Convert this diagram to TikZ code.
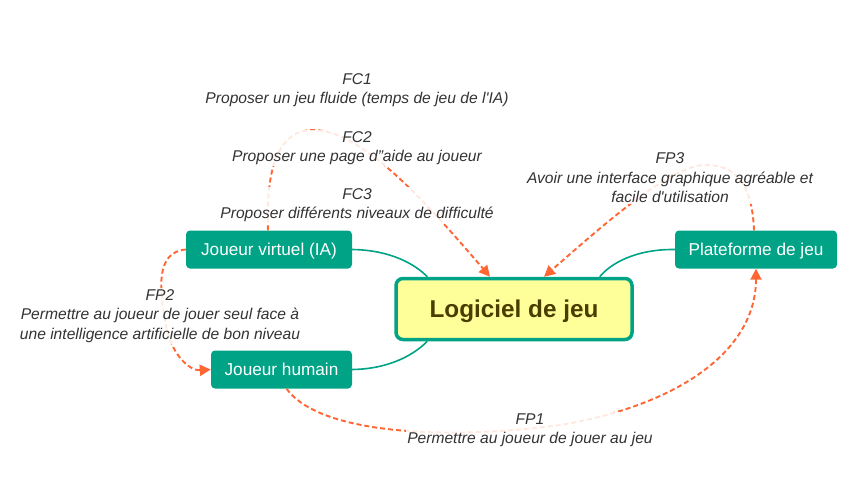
\documentclass[tikz,border=0pt]{standalone}
\usepackage{fontspec}
\setmainfont{Liberation Sans}
\usetikzlibrary{arrows.meta}
\definecolor{teal1}{HTML}{00A386}
\definecolor{orng}{HTML}{FF6633}
\definecolor{yel}{HTML}{FFFF99}
\definecolor{olive}{HTML}{4A3D00}
\definecolor{lbl}{HTML}{333333}
\begin{document}
\begin{tikzpicture}[x=1pt,y=-1pt,
  actor/.style={draw=none,fill=teal1,rounded corners=4pt,text=white,font=\fontsize{17.2}{20}\selectfont,minimum height=38pt,inner xsep=4pt,text depth=0pt,text height=12.5pt},
  mainbox/.style={draw=teal1,line width=3.5pt,fill=yel,rounded corners=7pt,text=olive,font=\fontsize{24.3}{28}\selectfont\bfseries,minimum width=236pt,minimum height=61pt,text depth=0pt,text height=17.5pt},
  lab/.style={fill=white,fill opacity=0.85,text opacity=1,text=lbl,align=center,font=\fontsize{15.6}{19.5}\selectfont\itshape,inner sep=1pt},
  link/.style={draw=teal1,line width=1.6pt},
  fn/.style={draw=orng,line width=1.9pt,dash pattern=on 5pt off 3pt,-{Triangle[length=11pt,width=11pt]}}
]
\useasboundingbox (0,0) rectangle (854,480);
\node[mainbox] (main) at (514,309) {Logiciel de jeu};
\node[actor,minimum width=166pt] (jv) at (269,249.5) {Joueur virtuel (IA)};
\node[actor,minimum width=141pt] (jh) at (281.5,369.5) {Joueur humain};
\node[actor,minimum width=162pt] (pf) at (756,249.5) {Plateforme de jeu};
\coordinate (fcpeak) at (313,130);
\coordinate (fppeak) at (705,165);
\coordinate (fp2mid) at (165,320);
\coordinate (fp1mid) at (560,425);
% solid links
\draw[link] (jv.east) .. controls (390,250) and (415,264) .. ([xshift=33pt]main.north west);
\draw[link] (jh.east) .. controls (390,369) and (415,354) .. ([xshift=33pt]main.south west);
\draw[link] (pf.west) .. controls (635,249) and (610,264) .. ([xshift=-34pt]main.north east);
% dashed functions
\draw[fn] ([xshift=-1pt]jv.north) .. controls (265,155) and (285,130) .. (fcpeak) .. controls (360,130) and (420,195) .. ([xshift=-24pt]main.north);
\draw[fn] ([xshift=-2pt]pf.north) .. controls (752,182) and (735,165) .. (fppeak) .. controls (670,165) and (600,228) .. ([xshift=30pt]main.north);
\draw[fn] (jv.west) .. controls (155,252) and (160,290) .. (fp2mid) .. controls (170,355) and (190,371) .. (jh.west);
\draw[fn] ([xshift=5pt]jh.south) .. controls (320,435) and (450,440) .. (fp1mid) .. controls (680,405) and (756,350) .. (pf.south);
% labels
\node[lab] (fc1) at (357,90) {FC1\\Proposer un jeu fluide (temps de jeu de l\textquotesingle IA)};
\node[lab] (fc2) at (357,148) {FC2\\Proposer une page d"aide au joueur};
\node[lab] (fc3) at (357,205) {FC3\\Proposer différents niveaux de difficulté};
\node[lab] (fp3) at (670,178) {FP3\\Avoir une interface graphique agréable et\\facile d\textquotesingle utilisation};
\node[lab] (fp2) at (160,316) {FP2\\Permettre au joueur de jouer seul face à\\une intelligence artificielle de bon niveau};
\node[lab] (fp1) at (530,430) {FP1\\Permettre au joueur de jouer au jeu};
\end{tikzpicture}
\end{document}
